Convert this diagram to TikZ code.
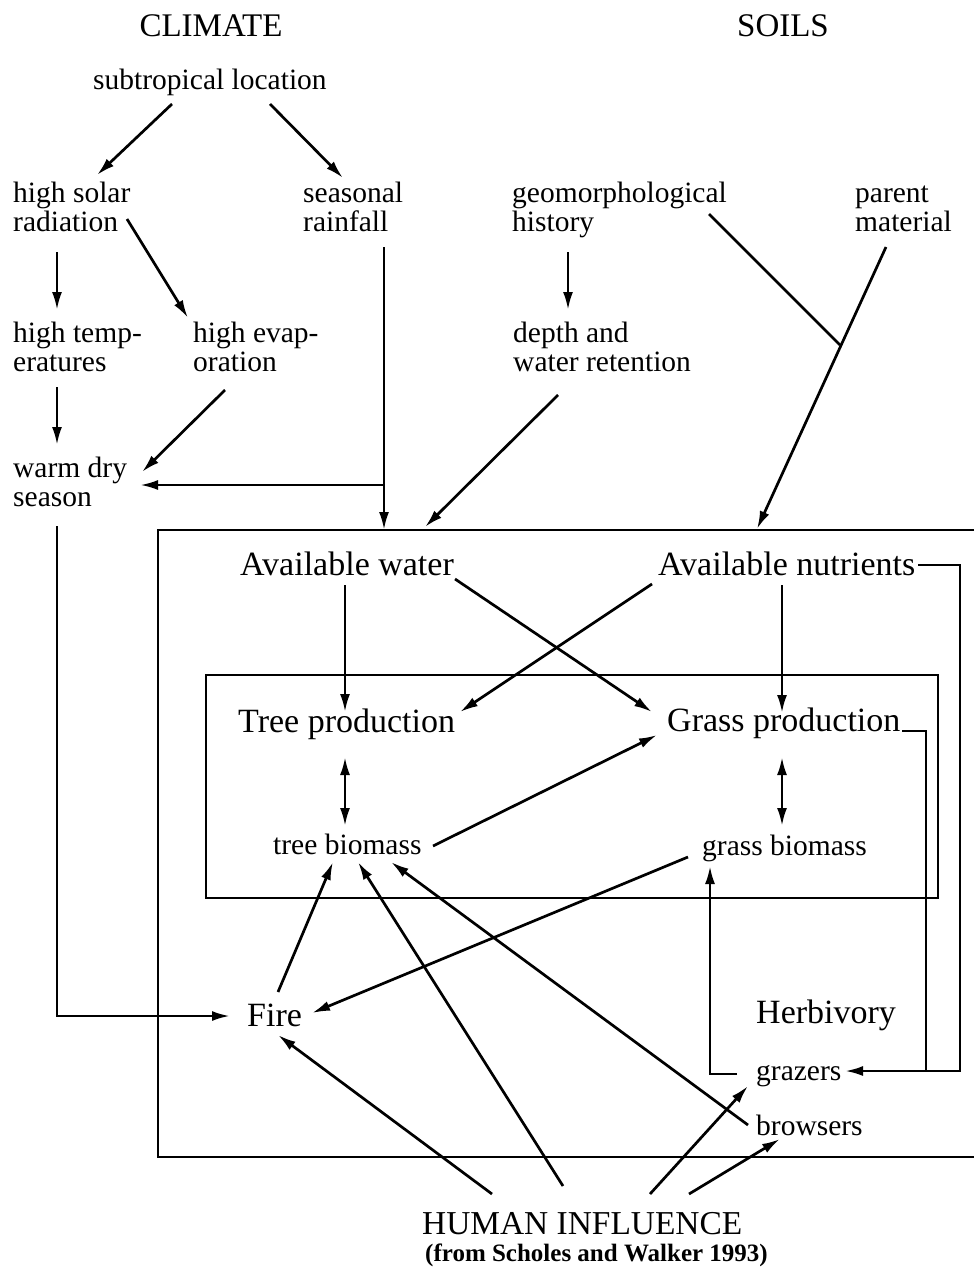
\documentclass[tikz,border=0pt]{standalone}
\usepackage{fontspec}
\setmainfont{Liberation Serif}
\usetikzlibrary{arrows.meta}
\tikzset{
 lbl/.style={anchor=base west, inner sep=0pt, align=left, font=\fontsize{29.5}{29}\selectfont},
 bignode/.style={anchor=base west, inner sep=0pt, font=\fontsize{34}{36}\selectfont},
 hdr/.style={anchor=base, inner sep=0pt, font=\fontsize{33}{36}\selectfont},
 arr/.style={-{Latex[length=18pt,width=10pt]}, line width=2.7pt},
 ln/.style={line width=2.7pt},
 darr/.style={{Latex[length=18pt,width=10pt]}-{Latex[length=18pt,width=10pt]}, line width=2.7pt},
}
\begin{document}
\begin{tikzpicture}[x=1pt,y=-1pt]
\useasboundingbox (0,0) rectangle (974,1268);
% headers
\node[hdr] (climate) at (211,37) {CLIMATE};
\node[hdr] (soils) at (783,37) {SOILS};
% climate / soil factors (base = last line)
\node[lbl] (sub) at (93,90) {subtropical location};
\node[lbl] (sol) at (13,231) {high solar\\radiation};
\node[lbl] (rain) at (303,231) {seasonal\\rainfall};
\node[lbl] (geo) at (512,231) {geomorphological\\history};
\node[lbl] (par) at (855,231) {parent\\material};
\node[lbl] (temp) at (13,371) {high temp-\\eratures};
\node[lbl] (evap) at (193,371) {high evap-\\oration};
\node[lbl] (depth) at (513,371) {depth and\\water retention};
\node[lbl] (warm) at (13,506) {warm dry\\season};
% boxes
\draw[ln] (974,530) -| (158,1157) -- (974,1157);
\draw[ln] (206,675) rectangle (938,898);
\coordinate (boxw) at (384,530);
\coordinate (boxd) at (425,527);
\coordinate (boxn) at (757,529);
\coordinate (junc) at (840,345);
\coordinate (rbr) at (384,485);
\coordinate (hj) at (926,1071);
% main nodes
\node[bignode] (aw) at (240,575) {Available water};
\node[bignode] (an) at (658,575) {Available nutrients};
\node[bignode] (tp) at (238,732) {Tree production};
\node[bignode] (gp) at (667,731) {Grass production};
\node[lbl] (tb) at (273,854) {tree biomass};
\node[lbl] (gb) at (702,855) {grass biomass};
\node[bignode] (fire) at (247,1026) {Fire};
\node[bignode] (herb) at (756,1023) {Herbivory};
\node[lbl] (graz) at (756,1080) {grazers};
\node[lbl] (brow) at (756,1135) {browsers};
\node[anchor=base west, inner sep=0pt, font=\fontsize{33.4}{36}\selectfont] (human) at (422,1234) {HUMAN INFLUENCE};
\node[anchor=base west, inner sep=0pt, font=\fontsize{25}{28}\selectfont\bfseries] (cite) at (425,1261) {(from Scholes and Walker 1993)};
% climate arrows
\draw[arr] ([shift={(79,14)}]sub.base west) -- ([shift={(84,-56)}]sol.base west);
\draw[arr] ([shift={(177,14)}]sub.base west) -- ([shift={(40,-53)}]rain.base west);
\draw[arr] ([shift={(44,21)}]sol.base west) -- ([shift={(44,-61)}]temp.base west);
\draw[arr] ([shift={(114,-12)}]sol.base west) -- ([shift={(-5,-53)}]evap.base west);
\draw[arr] ([shift={(44,16)}]temp.base west) -- ([shift={(44,-61)}]warm.base west);
\draw[arr] ([shift={(32,19)}]evap.base west) -- ([shift={(129,-34)}]warm.base west);
\draw[arr] ([shift={(81,16)}]rain.base west) -- (boxw);
\draw[arr] (rbr) -- ([shift={(127,-21)}]warm.base west);
% soil arrows
\draw[arr] ([shift={(56,21)}]geo.base west) -- ([shift={(55,-61)}]depth.base west);
\draw[arr] ([shift={(45,24)}]depth.base west) -- (boxd);
\draw[ln] ([shift={(197,-17)}]geo.base west) -- (junc);
\draw[arr] ([shift={(31,16)}]par.base west) -- (boxn);
% production
\draw[arr] ([shift={(105,10)}]aw.base west) -- ([shift={(107,-20)}]tp.base west);
\draw[arr] ([shift={(215,4)}]aw.base west) -- ([shift={(-15,-19)}]gp.base west);
\draw[arr] ([shift={(-6,9)}]an.base west) -- ([shift={(222,-20)}]tp.base west);
\draw[arr] ([shift={(124,10)}]an.base west) -- ([shift={(115,-18)}]gp.base west);
\draw[darr] ([shift={(107,25)}]tp.base west) -- ([shift={(72,-28)}]tb.base west);
\draw[darr] ([shift={(115,26)}]gp.base west) -- ([shift={(80,-29)}]gb.base west);
\draw[arr] ([shift={(160,-8)}]tb.base west) -- ([shift={(-10,4)}]gp.base west);
\draw[arr] ([shift={(-14,2)}]gb.base west) -- ([shift={(65,-13)}]fire.base west);
\draw[arr] ([shift={(31,-34)}]fire.base west) -- ([shift={(60,8)}]tb.base west);
\draw[arr] ([shift={(44,20)}]warm.base west) |- ([shift={(-17,-10)}]fire.base west);
% human influence
\draw[arr] ([shift={(70,-40)}]human.base west) -- ([shift={(31,9)}]fire.base west);
\draw[arr] ([shift={(141,-48)}]human.base west) -- ([shift={(85,8)}]tb.base west);
\draw[arr] ([shift={(-8,-10)}]brow.base west) -- ([shift={(118,8)}]tb.base west);
\draw[arr] ([shift={(228,-40)}]human.base west) -- ([shift={(-8,6)}]graz.base west);
\draw[arr] ([shift={(267,-40)}]human.base west) -- ([shift={(24,4)}]brow.base west);
% herbivory links
\draw[ln] ([shift={(235,0)}]gp.base west) -| (hj);
\draw[arr] ([shift={(260,-10)}]an.base west) -- ++(42,0) |- ([shift={(89,-9)}]graz.base west);
\draw[arr] ([shift={(-19,-6)}]graz.base west) -| ([shift={(8,11)}]gb.base west);
\end{tikzpicture}
\end{document}
